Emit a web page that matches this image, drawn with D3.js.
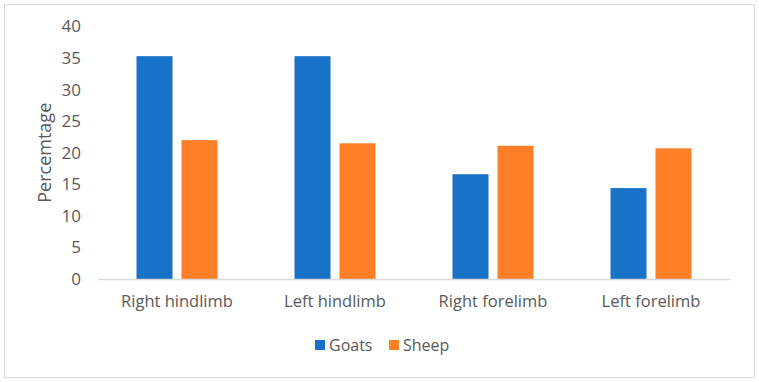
<!DOCTYPE html>
<html>
<head>
<meta charset="utf-8">
<script src="https://cdn.jsdelivr.net/npm/d3@7"></script>
<style>
  body { margin: 0; background: #fff; }
  svg text { font-family: "Open Sans", "Liberation Sans", sans-serif; fill: #595959; }
</style>
</head>
<body>
<div id="chart"></div>
<script>
// data
var categories = ["Right hindlimb", "Left hindlimb", "Right forelimb", "Left forelimb"];
var goats = [35.3, 35.3, 16.6, 14.4];
var sheep = [22.0, 21.5, 21.1, 20.7];
var seriesNames = ["Goats", "Sheep"];
var yTicks = [0, 5, 10, 15, 20, 25, 30, 35, 40];

var colors = {
  'Goats': '#1873C8',
  'Sheep': '#FF7F27'
};

var W = 759, H = 382;
var margin = { top: 26.5, right: 29, bottom: 103, left: 98 };
var width = W - margin.left - margin.right;
var height = H - margin.top - margin.bottom;

var svg = d3.select("#chart").append("svg")
  .attr("width", W)
  .attr("height", H);

// outer frame
svg.append("rect")
  .attr("x", 4.5).attr("y", 4.5)
  .attr("width", W - 9).attr("height", H - 9)
  .attr("fill", "#fff")
  .attr("stroke", "#d9d9d9");

var g = svg.append("g")
  .attr("transform", "translate(" + margin.left + "," + margin.top + ")");

var x0 = d3.scaleBand().domain(categories).range([0, width]).paddingInner(0).paddingOuter(0);
var x1 = d3.scaleBand().domain(seriesNames).range([x0.bandwidth() / 2 - 40.5, x0.bandwidth() / 2 + 40.5]).paddingInner(0.2);
var y = d3.scaleLinear().domain([0, 40]).range([height, 0]);

// y axis labels
var yAxis = g.append("g")
  .call(d3.axisLeft(y).tickValues(yTicks).tickSize(0).tickPadding(17));
yAxis.select(".domain").remove();
yAxis.selectAll("text")
  .style("font-size", "17px")
  .attr("fill", null);

// rows of data per category
var rows = categories.map(function(c, i) {
  return { cat: c, values: [{ key: "Goats", v: goats[i] }, { key: "Sheep", v: sheep[i] }] };
});

var groups = g.selectAll(".grp").data(rows).enter().append("g")
  .attr("class", "grp")
  .attr("transform", function(d) { return "translate(" + x0(d.cat) + ",0)"; });

groups.selectAll("rect").data(function(d) { return d.values; }).enter().append("rect")
  .attr("x", function(d) { return x1(d.key); })
  .attr("width", x1.bandwidth())
  .attr("y", function(d) { return y(d.v); })
  .attr("height", function(d) { return height - y(d.v); })
  .attr("fill", function(d) { return colors[d.key]; });

// x axis
var xAxis = g.append("g")
  .attr("transform", "translate(0," + height + ")")
  .call(d3.axisBottom(x0).tickSize(0).tickPadding(16));
xAxis.select(".domain").attr("stroke", "#d9d9d9").attr("stroke-width", 1.5);
xAxis.selectAll("text")
  .style("font-size", "16.5px")
  .attr("fill", null);

// y axis title
svg.append("text")
  .attr("transform", "translate(51," + (margin.top + height / 2) + ") rotate(-90)")
  .attr("text-anchor", "middle")
  .style("font-size", "18px")
  .text("Percemtage");

// legend
var legend = svg.append("g").attr("transform", "translate(315,345)");
var legendX = [0, 74];
seriesNames.forEach(function(s, i) {
  var item = legend.append("g").attr("transform", "translate(" + legendX[i] + ",0)");
  item.append("rect")
    .attr("x", 0).attr("y", -5)
    .attr("width", 10).attr("height", 10)
    .attr("fill", colors[s]);
  item.append("text")
    .attr("x", 14).attr("y", 0)
    .attr("dy", "0.35em")
    .style("font-size", "16px")
    .text(s);
});
</script>
</body>
</html>
